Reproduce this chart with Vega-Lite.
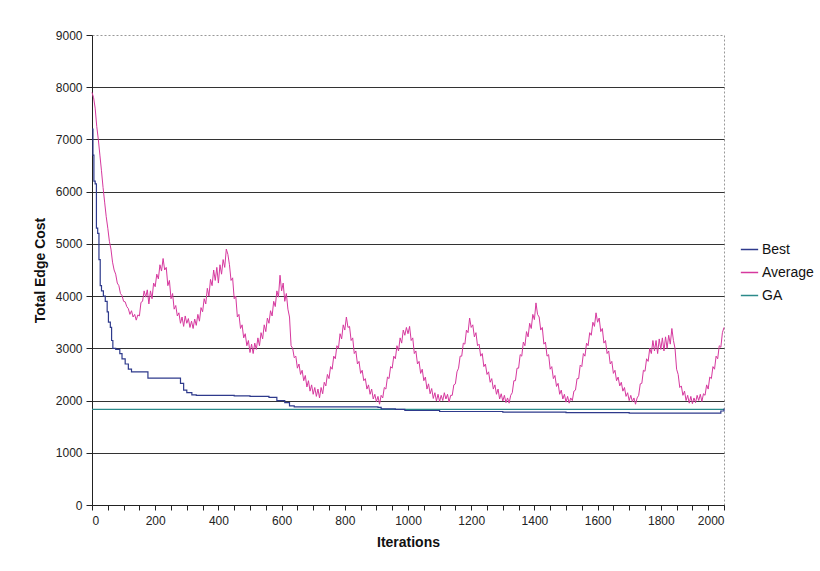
{
"$schema": "https://vega.github.io/schema/vega-lite/v6.json",
"width": 632, "height": 470,
"autosize": {"type": "none"},
"padding": {"left": 92, "top": 35, "right": 96, "bottom": 66},
"background": "white",
"config": {"font": "Liberation Sans", "view": {"stroke": "#999", "strokeDash": [2, 2], "strokeWidth": 1}},
"datasets": {
"ga": [{"i":0,"v":1830},{"i":2000,"v":1830}],
"best": [{"i":0,"v":7200},{"i":3,"v":6700},{"i":6,"v":6200},{"i":10,"v":6150},{"i":14,"v":5300},{"i":18,"v":5200},{"i":22,"v":4700},{"i":26,"v":4200},{"i":30,"v":4100},{"i":36,"v":4000},{"i":42,"v":3900},{"i":48,"v":3700},{"i":52,"v":3500},{"i":58,"v":3400},{"i":62,"v":3150},{"i":66,"v":3000},{"i":75,"v":2980},{"i":88,"v":2900},{"i":95,"v":2800},{"i":105,"v":2700},{"i":115,"v":2600},{"i":125,"v":2550},{"i":170,"v":2550},{"i":177,"v":2430},{"i":270,"v":2430},{"i":280,"v":2330},{"i":290,"v":2200},{"i":300,"v":2150},{"i":316,"v":2110},{"i":330,"v":2100},{"i":450,"v":2090},{"i":500,"v":2080},{"i":560,"v":2060},{"i":585,"v":2000},{"i":610,"v":1960},{"i":625,"v":1900},{"i":640,"v":1880},{"i":905,"v":1870},{"i":915,"v":1840},{"i":960,"v":1830},{"i":990,"v":1810},{"i":1100,"v":1790},{"i":1300,"v":1780},{"i":1500,"v":1770},{"i":1700,"v":1760},{"i":1950,"v":1760},{"i":1990,"v":1800},{"i":2000,"v":1850}],
"avg": [{"i":0,"v":7900},{"i":5,"v":7800},{"i":10,"v":7600},{"i":15,"v":7250},{"i":20,"v":7000},{"i":25,"v":6700},{"i":30,"v":6400},{"i":35,"v":6080},{"i":40,"v":5800},{"i":45,"v":5520},{"i":50,"v":5300},{"i":55,"v":5050},{"i":60,"v":4900},{"i":65,"v":4650},{"i":70,"v":4500},{"i":75,"v":4420},{"i":80,"v":4250},{"i":85,"v":4200},{"i":90,"v":4050},{"i":95,"v":4010},{"i":100,"v":3900},{"i":105,"v":3890},{"i":110,"v":3800},{"i":115,"v":3760},{"i":120,"v":3650},{"i":125,"v":3720},{"i":130,"v":3600},{"i":135,"v":3650},{"i":140,"v":3540},{"i":145,"v":3640},{"i":150,"v":3620},{"i":155,"v":3880},{"i":160,"v":3900},{"i":165,"v":4100},{"i":170,"v":3980},{"i":175,"v":4120},{"i":180,"v":3850},{"i":185,"v":4100},{"i":190,"v":3950},{"i":195,"v":4250},{"i":200,"v":4180},{"i":205,"v":4420},{"i":210,"v":4330},{"i":215,"v":4600},{"i":220,"v":4480},{"i":225,"v":4720},{"i":230,"v":4500},{"i":235,"v":4550},{"i":240,"v":4200},{"i":245,"v":4300},{"i":250,"v":3950},{"i":255,"v":4050},{"i":260,"v":3750},{"i":265,"v":3820},{"i":270,"v":3620},{"i":275,"v":3680},{"i":280,"v":3480},{"i":285,"v":3600},{"i":290,"v":3420},{"i":295,"v":3620},{"i":300,"v":3480},{"i":305,"v":3570},{"i":310,"v":3400},{"i":315,"v":3520},{"i":320,"v":3380},{"i":325,"v":3560},{"i":330,"v":3440},{"i":335,"v":3650},{"i":340,"v":3520},{"i":345,"v":3780},{"i":350,"v":3700},{"i":355,"v":3950},{"i":360,"v":3850},{"i":365,"v":4150},{"i":370,"v":4000},{"i":375,"v":4320},{"i":380,"v":4200},{"i":385,"v":4500},{"i":390,"v":4300},{"i":395,"v":4550},{"i":400,"v":4250},{"i":405,"v":4600},{"i":410,"v":4420},{"i":415,"v":4700},{"i":420,"v":4550},{"i":425,"v":4900},{"i":430,"v":4800},{"i":435,"v":4600},{"i":440,"v":4300},{"i":445,"v":4350},{"i":450,"v":3950},{"i":455,"v":4000},{"i":460,"v":3600},{"i":465,"v":3650},{"i":470,"v":3380},{"i":475,"v":3450},{"i":480,"v":3200},{"i":485,"v":3280},{"i":490,"v":3050},{"i":495,"v":3150},{"i":500,"v":2920},{"i":505,"v":3080},{"i":510,"v":2900},{"i":515,"v":3100},{"i":520,"v":2980},{"i":525,"v":3200},{"i":530,"v":3050},{"i":535,"v":3300},{"i":540,"v":3180},{"i":545,"v":3450},{"i":550,"v":3320},{"i":555,"v":3580},{"i":560,"v":3480},{"i":565,"v":3720},{"i":570,"v":3620},{"i":575,"v":3900},{"i":580,"v":3800},{"i":585,"v":4100},{"i":590,"v":3980},{"i":595,"v":4400},{"i":600,"v":4100},{"i":605,"v":4250},{"i":610,"v":3900},{"i":615,"v":4050},{"i":620,"v":3750},{"i":625,"v":3600},{"i":630,"v":3050},{"i":635,"v":3000},{"i":640,"v":2820},{"i":645,"v":2850},{"i":650,"v":2620},{"i":655,"v":2700},{"i":660,"v":2500},{"i":665,"v":2580},{"i":670,"v":2380},{"i":675,"v":2480},{"i":680,"v":2260},{"i":685,"v":2380},{"i":690,"v":2180},{"i":695,"v":2300},{"i":700,"v":2120},{"i":705,"v":2250},{"i":710,"v":2080},{"i":715,"v":2220},{"i":720,"v":2050},{"i":725,"v":2250},{"i":730,"v":2130},{"i":735,"v":2350},{"i":740,"v":2280},{"i":745,"v":2500},{"i":750,"v":2420},{"i":755,"v":2650},{"i":760,"v":2600},{"i":765,"v":2850},{"i":770,"v":2800},{"i":775,"v":3050},{"i":780,"v":3000},{"i":785,"v":3280},{"i":790,"v":3180},{"i":795,"v":3450},{"i":800,"v":3350},{"i":805,"v":3600},{"i":810,"v":3400},{"i":815,"v":3420},{"i":820,"v":3150},{"i":825,"v":3200},{"i":830,"v":2900},{"i":835,"v":2950},{"i":840,"v":2700},{"i":845,"v":2750},{"i":850,"v":2520},{"i":855,"v":2580},{"i":860,"v":2380},{"i":865,"v":2420},{"i":870,"v":2220},{"i":875,"v":2300},{"i":880,"v":2120},{"i":885,"v":2220},{"i":890,"v":2030},{"i":895,"v":2120},{"i":900,"v":1980},{"i":905,"v":2080},{"i":910,"v":1930},{"i":915,"v":2100},{"i":920,"v":2050},{"i":925,"v":2250},{"i":930,"v":2220},{"i":935,"v":2450},{"i":940,"v":2420},{"i":945,"v":2650},{"i":950,"v":2620},{"i":955,"v":2850},{"i":960,"v":2800},{"i":965,"v":3050},{"i":970,"v":2950},{"i":975,"v":3200},{"i":980,"v":3100},{"i":985,"v":3350},{"i":990,"v":3250},{"i":995,"v":3400},{"i":1000,"v":3280},{"i":1005,"v":3420},{"i":1010,"v":3150},{"i":1015,"v":3200},{"i":1020,"v":2900},{"i":1025,"v":2950},{"i":1030,"v":2700},{"i":1035,"v":2750},{"i":1040,"v":2520},{"i":1045,"v":2600},{"i":1050,"v":2380},{"i":1055,"v":2450},{"i":1060,"v":2220},{"i":1065,"v":2320},{"i":1070,"v":2130},{"i":1075,"v":2230},{"i":1080,"v":2040},{"i":1085,"v":2150},{"i":1090,"v":1990},{"i":1095,"v":2120},{"i":1100,"v":1980},{"i":1105,"v":2100},{"i":1110,"v":2000},{"i":1115,"v":2150},{"i":1120,"v":2030},{"i":1125,"v":2120},{"i":1130,"v":1970},{"i":1135,"v":2100},{"i":1140,"v":2100},{"i":1145,"v":2300},{"i":1150,"v":2320},{"i":1155,"v":2550},{"i":1160,"v":2620},{"i":1165,"v":2850},{"i":1170,"v":2850},{"i":1175,"v":3100},{"i":1180,"v":3080},{"i":1185,"v":3350},{"i":1190,"v":3300},{"i":1195,"v":3580},{"i":1200,"v":3400},{"i":1205,"v":3450},{"i":1210,"v":3220},{"i":1215,"v":3300},{"i":1220,"v":3050},{"i":1225,"v":3080},{"i":1230,"v":2850},{"i":1235,"v":2900},{"i":1240,"v":2650},{"i":1245,"v":2700},{"i":1250,"v":2500},{"i":1255,"v":2550},{"i":1260,"v":2350},{"i":1265,"v":2420},{"i":1270,"v":2220},{"i":1275,"v":2300},{"i":1280,"v":2120},{"i":1285,"v":2220},{"i":1290,"v":2030},{"i":1295,"v":2130},{"i":1300,"v":1990},{"i":1305,"v":2100},{"i":1310,"v":1960},{"i":1315,"v":2050},{"i":1320,"v":1950},{"i":1325,"v":2100},{"i":1330,"v":2150},{"i":1335,"v":2380},{"i":1340,"v":2380},{"i":1345,"v":2620},{"i":1350,"v":2620},{"i":1355,"v":2880},{"i":1360,"v":2850},{"i":1365,"v":3120},{"i":1370,"v":3050},{"i":1375,"v":3320},{"i":1380,"v":3220},{"i":1385,"v":3480},{"i":1390,"v":3380},{"i":1395,"v":3650},{"i":1400,"v":3550},{"i":1405,"v":3870},{"i":1410,"v":3650},{"i":1415,"v":3600},{"i":1420,"v":3350},{"i":1425,"v":3400},{"i":1430,"v":3080},{"i":1435,"v":3120},{"i":1440,"v":2850},{"i":1445,"v":2880},{"i":1450,"v":2600},{"i":1455,"v":2650},{"i":1460,"v":2420},{"i":1465,"v":2480},{"i":1470,"v":2270},{"i":1475,"v":2330},{"i":1480,"v":2120},{"i":1485,"v":2200},{"i":1490,"v":2030},{"i":1495,"v":2120},{"i":1500,"v":1970},{"i":1505,"v":2080},{"i":1510,"v":1950},{"i":1515,"v":2050},{"i":1520,"v":2000},{"i":1525,"v":2180},{"i":1530,"v":2200},{"i":1535,"v":2420},{"i":1540,"v":2420},{"i":1545,"v":2680},{"i":1550,"v":2650},{"i":1555,"v":2900},{"i":1560,"v":2850},{"i":1565,"v":3100},{"i":1570,"v":3050},{"i":1575,"v":3300},{"i":1580,"v":3250},{"i":1585,"v":3500},{"i":1590,"v":3420},{"i":1595,"v":3680},{"i":1600,"v":3500},{"i":1605,"v":3580},{"i":1610,"v":3320},{"i":1615,"v":3380},{"i":1620,"v":3100},{"i":1625,"v":3150},{"i":1630,"v":2900},{"i":1635,"v":2950},{"i":1640,"v":2700},{"i":1645,"v":2750},{"i":1650,"v":2520},{"i":1655,"v":2580},{"i":1660,"v":2380},{"i":1665,"v":2450},{"i":1670,"v":2280},{"i":1675,"v":2350},{"i":1680,"v":2180},{"i":1685,"v":2250},{"i":1690,"v":2080},{"i":1695,"v":2150},{"i":1700,"v":2000},{"i":1705,"v":2100},{"i":1710,"v":1980},{"i":1715,"v":2050},{"i":1720,"v":1930},{"i":1725,"v":2050},{"i":1730,"v":2100},{"i":1735,"v":2320},{"i":1740,"v":2330},{"i":1745,"v":2580},{"i":1750,"v":2560},{"i":1755,"v":2800},{"i":1760,"v":2750},{"i":1765,"v":3000},{"i":1770,"v":2900},{"i":1775,"v":3150},{"i":1780,"v":2950},{"i":1785,"v":3150},{"i":1790,"v":2900},{"i":1795,"v":3180},{"i":1800,"v":2980},{"i":1805,"v":3200},{"i":1810,"v":2950},{"i":1815,"v":3220},{"i":1820,"v":3000},{"i":1825,"v":3250},{"i":1830,"v":3080},{"i":1835,"v":3380},{"i":1840,"v":3150},{"i":1845,"v":3000},{"i":1850,"v":2600},{"i":1855,"v":2500},{"i":1860,"v":2250},{"i":1865,"v":2280},{"i":1870,"v":2100},{"i":1875,"v":2180},{"i":1880,"v":2000},{"i":1885,"v":2100},{"i":1890,"v":1950},{"i":1895,"v":2080},{"i":1900,"v":1940},{"i":1905,"v":2050},{"i":1910,"v":1960},{"i":1915,"v":2100},{"i":1920,"v":2000},{"i":1925,"v":2120},{"i":1930,"v":1980},{"i":1935,"v":2130},{"i":1940,"v":2100},{"i":1945,"v":2300},{"i":1950,"v":2220},{"i":1955,"v":2450},{"i":1960,"v":2420},{"i":1965,"v":2650},{"i":1970,"v":2600},{"i":1975,"v":2850},{"i":1980,"v":2800},{"i":1985,"v":3050},{"i":1990,"v":3020},{"i":1995,"v":3300},{"i":2000,"v":3400}]
},
"encoding": {
"x": {"field": "i", "type": "quantitative", "scale": {"domain": [0, 2000], "nice": false},
 "axis": {"title": "Iterations", "values": [0,50,100,150,200,250,300,350,400,450,500,550,600,650,700,750,800,850,900,950,1000,1050,1100,1150,1200,1250,1300,1350,1400,1450,1500,1550,1600,1650,1700,1750,1800,1850,1900,1950,2000],
 "format": "d", "labelExpr": "datum.value % 200 === 0 ? datum.label : ''", "labelOverlap": false, "grid": false,
 "domainColor": "#222", "tickColor": "#222", "tickSize": 5, "labelFontSize": 12, "labelColor": "#222", "labelPadding": 5,
 "titleFontSize": 14, "titleFontWeight": "bold", "titleColor": "#111", "titlePadding": 9}},
"y": {"field": "v", "type": "quantitative", "scale": {"domain": [0, 9000], "nice": false},
 "axis": {"title": "Total Edge Cost", "values": [0,1000,2000,3000,4000,5000,6000,7000,8000,9000], "format": "d",
 "grid": true, "gridColor": {"condition": {"test": "datum.value === 9000", "value": "transparent"}, "value": "#333"}, "gridWidth": 1,
 "domainColor": "#222", "tickColor": "#222", "tickSize": 6, "labelFontSize": 12, "labelColor": "#222", "labelPadding": 4,
 "titleFontSize": 14, "titleFontWeight": "bold", "titleColor": "#111", "titlePadding": 8}}
},
"layer": [
{"data": {"name": "ga"}, "mark": {"type": "line", "strokeWidth": 1.2},
 "encoding": {"color": {"datum": "GA", "type": "nominal",
  "scale": {"domain": ["Best", "Average", "GA"], "range": ["#2e3a8c", "#d6389e", "#2b8a8a"]},
  "legend": {"orient": "none", "legendX": 648, "legendY": 205, "title": null, "symbolType": "stroke", "symbolSize": 300, "symbolStrokeWidth": 1.5, "labelFontSize": 14, "labelColor": "#111", "rowPadding": 6, "labelLimit": 300, "labelOffset": 3}}}},
{"data": {"name": "best"}, "mark": {"type": "line", "interpolate": "step-after", "strokeWidth": 1.2},
 "encoding": {"color": {"datum": "Best", "type": "nominal"}}},
{"data": {"name": "avg"}, "mark": {"type": "line", "strokeWidth": 1},
 "encoding": {"color": {"datum": "Average", "type": "nominal"}}}
]
}
